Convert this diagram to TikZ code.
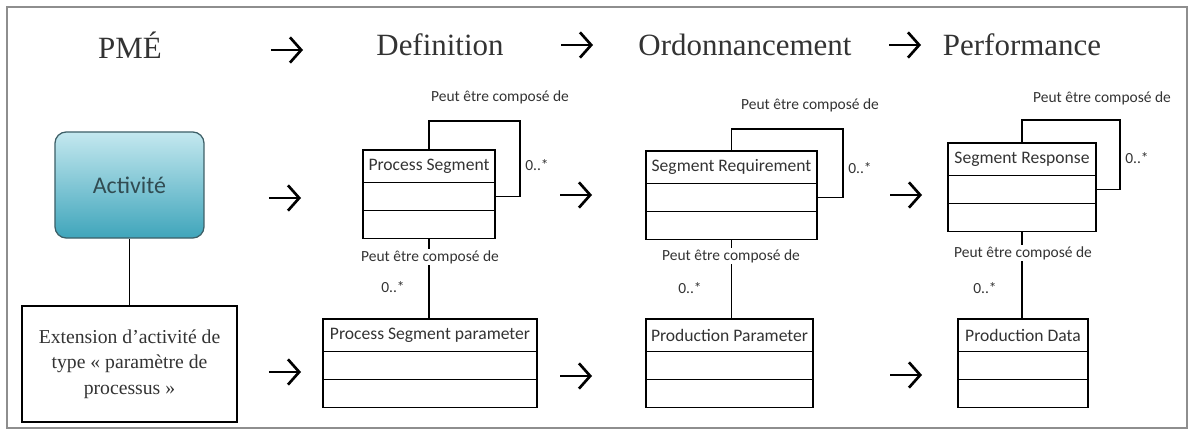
\documentclass[tikz,border=0pt]{standalone}
\usepackage{fontspec}
\setmainfont{Liberation Serif}
\newfontfamily\uifont{Carlito}
\usetikzlibrary{positioning,arrows.meta}

\definecolor{frameGray}{HTML}{8E8E8E}
\definecolor{actTop}{HTML}{C4E8EF}
\definecolor{actBot}{HTML}{3FA5BB}
\definecolor{actLine}{HTML}{3D5F67}
\definecolor{inkGray}{HTML}{333333}

\tikzset{
  title/.style={font=\fontsize{22}{26}\selectfont, text=inkGray},
  flow/.style={line width=1.9pt, -{Straight Barb[length=8pt,width=18pt]}},
  classhead/.style={draw, line width=0.8pt, inner sep=0pt, outer sep=0pt,
    minimum height=0.82cm, font=\uifont\fontsize{12.5}{14}\selectfont, text=inkGray},
  classrow/.style={draw, line width=0.8pt, inner sep=0pt, outer sep=0pt, minimum height=0.7cm},
  relabel/.style={font=\uifont\fontsize{11}{13}\selectfont, text=inkGray},
}

\begin{document}
\begin{tikzpicture}[x=0.025cm,y=-0.025cm]
        \useasboundingbox (0,0) rectangle (1191,433);
        \draw [frameGray, line width=1.5pt] (7,7) rectangle (1187,428);

        % column titles
        \node [title] (pme) at (130,45) {PMÉ};
        \node [title] (def) at (440,45) {Definition};
        \node [title] (ord) at (745,45) {Ordonnancement};
        \node [title] (perf) at (1022,45) {Performance};

        % PME side
        \node [draw=actLine, line width=0.9pt, rounded corners=8pt, top color=actTop, bottom color=actBot,
          minimum width=3.725cm, minimum height=2.65cm, text=actLine!80!black,
          font=\uifont\fontsize{17}{20}\selectfont] (act) at (129.5,185) {Activité};
        \node [draw, line width=0.8pt, minimum width=5.375cm, minimum height=2.9cm, align=center,
          text=inkGray, font=\fontsize{14}{18}\selectfont] (ext) at (129.5,364)
          {Extension d’activité de\\type « paramètre de\\processus »};
        \draw [line width=0.8pt] (act) -- (ext);

        % Definition
        \node [classhead, minimum width=3.3cm] (psh) at (429,166.4) {Process Segment};
        \node [classrow, minimum width=3.3cm, below=0pt of psh] (psa) {};
        \node [classrow, minimum width=3.3cm, below=0pt of psa] (psb) {};
        \node [classhead, minimum width=5.35cm] (psph) at (430,335.4) {Process Segment parameter};
        \node [classrow, minimum width=5.35cm, below=0pt of psph] (pspa) {};
        \node [classrow, minimum width=5.35cm, below=0pt of pspa] (pspb) {};

        % Ordonnancement
        \node [classhead, minimum width=4.275cm] (srh) at (731.5,167.4) {Segment Requirement};
        \node [classrow, minimum width=4.275cm, below=0pt of srh] (sra) {};
        \node [classrow, minimum width=4.275cm, below=0pt of sra] (srb) {};
        \node [classhead, minimum width=4.175cm] (pph) at (729.5,335.4) {Production Parameter};
        \node [classrow, minimum width=4.175cm, below=0pt of pph] (ppa) {};
        \node [classrow, minimum width=4.175cm, below=0pt of ppa] (ppb) {};

        % Performance
        \node [classhead, minimum width=3.7cm] (rsh) at (1022,159.4) {Segment Response};
        \node [classrow, minimum width=3.7cm, below=0pt of rsh] (rsa) {};
        \node [classrow, minimum width=3.7cm, below=0pt of rsa] (rsb) {};
        \node [classhead, minimum width=3.25cm] (pdh) at (1023,335.4) {Production Data};
        \node [classrow, minimum width=3.25cm, below=0pt of pdh] (pda) {};
        \node [classrow, minimum width=3.25cm, below=0pt of pda] (pdb) {};

        % self compositions
        \coordinate (psloop) at (520,121);
        \coordinate (srloop) at (843,129);
        \coordinate (rsloop) at (1120,120);
        \draw [line width=0.8pt] (psh.north) |- (psloop) |- (psa.east);
        \draw [line width=0.8pt] (srh.north) |- (srloop) |- (sra.east);
        \draw [line width=0.8pt] (rsh.north) |- (rsloop) |- (rsa.east);
        \node [relabel] (psself) at (500,97) {Peut être composé de};
        \node [relabel] (psselfm) at (537,165) {0..*};
        \node [relabel] (srself) at (810,105) {Peut être composé de};
        \node [relabel] (srselfm) at (860,168) {0..*};
        \node [relabel] (rsself) at (1102,98) {Peut être composé de};
        \node [relabel] (rsselfm) at (1137,158) {0..*};

        % parameter links
        \draw [line width=0.8pt] (psb.south) -- (psb.south |- psph.north);
        \draw [line width=0.8pt] (srb.south) -- (srb.south |- pph.north);
        \draw [line width=0.8pt] (rsb.south) -- (rsb.south |- pdh.north);
        \node [relabel, fill=white, inner sep=1pt] (pslink) at (430,257) {Peut être composé de};
        \node [relabel] (pslinkm) at (393,287) {0..*};
        \node [relabel, fill=white, inner sep=1pt] (srlink) at (731,256) {Peut être composé de};
        \node [relabel] (srlinkm) at (690,288) {0..*};
        \node [relabel, fill=white, inner sep=1pt] (rslink) at (1023,253) {Peut être composé de};
        \node [relabel] (rslinkm) at (985,288) {0..*};

        % arrows between columns
        \foreach \n/\x/\y in {ta/287/50, tb/577/45, tc/905/45,
                              ua/285/198, ub/576/195, uc/906/195,
                              va/285/372, vb/576/376, vc/906/375} {
          \coordinate (\n) at (\x,\y);
          \draw [flow] ([xshift=-0.4cm]\n) -- ([xshift=0.4cm]\n);
        }
      \end{tikzpicture}
\end{document}
